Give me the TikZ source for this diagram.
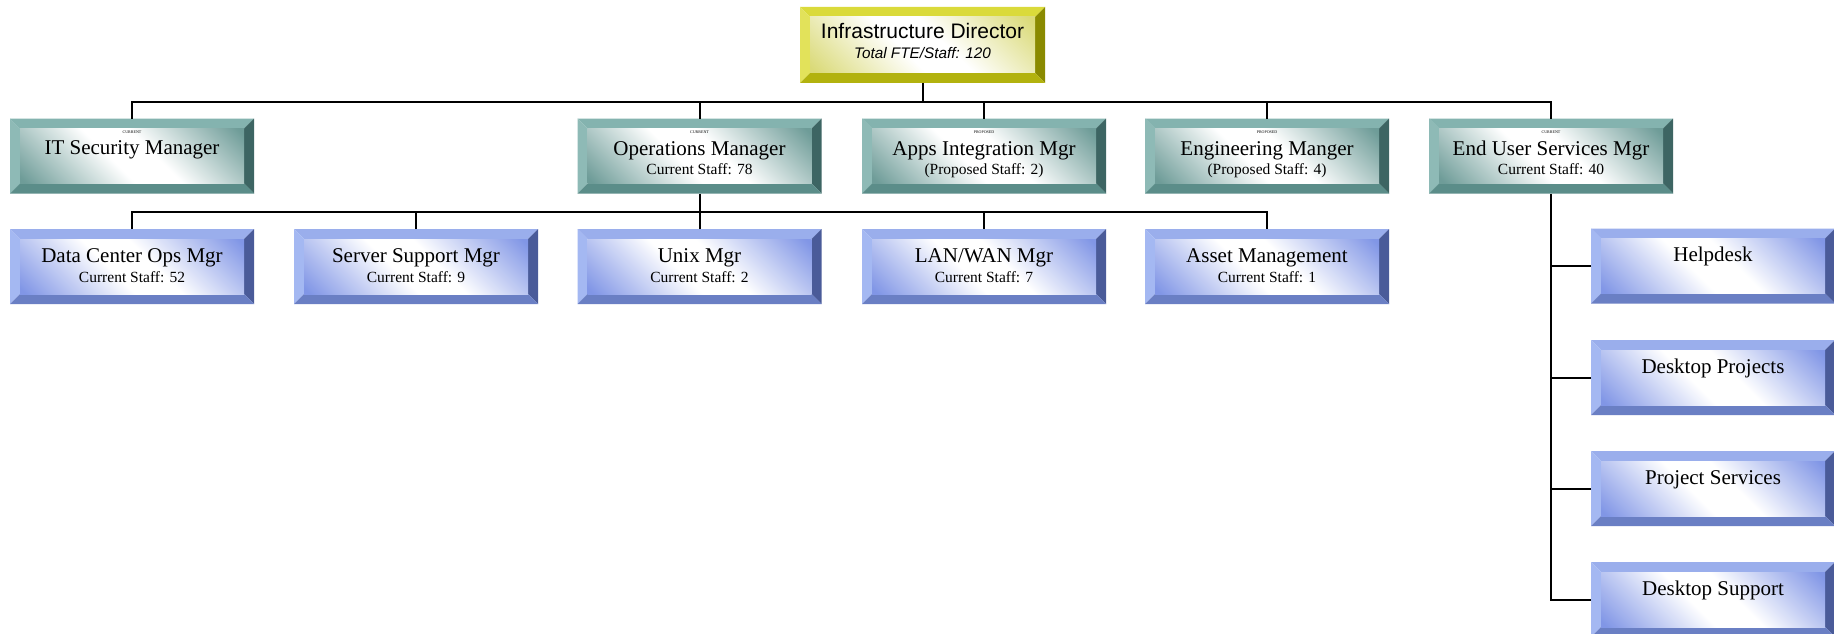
\documentclass[tikz,border=0pt]{standalone}
\usepackage{fontspec}
\setmainfont{Liberation Serif}
\newfontfamily\arialf{Liberation Sans}
\definecolor{tTop}{HTML}{84B3AF}
\definecolor{tLeft}{HTML}{8EBAB6}
\definecolor{tRight}{HTML}{3D6563}
\definecolor{tBot}{HTML}{5B8D89}
\definecolor{tIn}{HTML}{6E9C98}
\definecolor{bTop}{HTML}{9AAEEC}
\definecolor{bLeft}{HTML}{A4B8F2}
\definecolor{bRight}{HTML}{4A5B99}
\definecolor{bBot}{HTML}{6A7FC4}
\definecolor{bIn}{HTML}{8196E6}
\definecolor{yTop}{HTML}{DADA3A}
\definecolor{yLeft}{HTML}{E2E25A}
\definecolor{yRight}{HTML}{8A8A00}
\definecolor{yBot}{HTML}{B2B20E}
\definecolor{yIn}{HTML}{DADA78}
\pgfdeclareverticalshading{shT}{100bp}{color(0bp)=(tIn); color(16bp)=(tIn); color(44bp)=(white); color(56bp)=(white); color(84bp)=(tIn); color(100bp)=(tIn)}
\pgfdeclareverticalshading{shB}{100bp}{color(0bp)=(bIn); color(16bp)=(bIn); color(44bp)=(white); color(56bp)=(white); color(84bp)=(bIn); color(100bp)=(bIn)}
\pgfdeclareverticalshading{shY}{100bp}{color(0bp)=(yIn); color(16bp)=(yIn); color(44bp)=(white); color(56bp)=(white); color(84bp)=(yIn); color(100bp)=(yIn)}
\tikzset{
  bev/.style n args={5}{rectangle, minimum width=244pt, minimum height=75pt,
    inner sep=0pt, outer sep=0pt,
    path picture={
      \coordinate (pNW) at (path picture bounding box.north west);
      \coordinate (pNE) at (path picture bounding box.north east);
      \coordinate (pSW) at (path picture bounding box.south west);
      \coordinate (pSE) at (path picture bounding box.south east);
      \fill[#1] (pNW) -- (pNE) -- ([shift={(-10pt,-10pt)}]pNE) -- ([shift={(10pt,-10pt)}]pNW) -- cycle;
      \fill[#2] (pNW) -- ([shift={(10pt,-10pt)}]pNW) -- ([shift={(10pt,10pt)}]pSW) -- (pSW) -- cycle;
      \fill[#3] (pNE) -- (pSE) -- ([shift={(-10pt,10pt)}]pSE) -- ([shift={(-10pt,-10pt)}]pNE) -- cycle;
      \fill[#4] (pSW) -- ([shift={(10pt,10pt)}]pSW) -- ([shift={(-10pt,10pt)}]pSE) -- (pSE) -- cycle;
      \shade[shading=#5, shading angle=-45]
        ([shift={(10pt,-10pt)}]pNW) rectangle ([shift={(-10pt,10pt)}]pSE);
    }},
  tealbox/.style={bev={tTop}{tLeft}{tRight}{tBot}{shT}},
  bluebox/.style={bev={bTop}{bLeft}{bRight}{bBot}{shB}},
  yelbox/.style={bev={yTop}{yLeft}{yRight}{yBot}{shY}, minimum width=245pt, minimum height=76pt},
  conn/.style={draw=black, line width=2pt},
  ttltxt/.style={anchor=base, inner sep=0pt, font=\fontsize{21}{24}\selectfont},
  subtxt/.style={anchor=base, inner sep=0pt, font=\fontsize{15.5}{18}\selectfont},
  tagtxt/.style={anchor=base, inner sep=0pt, font=\fontsize{4}{5}\selectfont},
}
% row-one box with tag line
\newcommand{\tagbox}[5]{%
  \node[tealbox] (#1) at (#2,156) {};
  \node[tagtxt] (#1-g) at ([yshift=-15pt]#1.north) {#3};
  \node[ttltxt] (#1-t) at ([yshift=-36.5pt]#1.north) {#4};
  \node[subtxt] (#1-s) at ([yshift=-56pt]#1.north) {#5};}
% row-two box
\newcommand{\staffbox}[4]{%
  \node[bluebox] (#1) at (#2,266.5) {};
  \node[ttltxt] (#1-t) at ([yshift=-33pt]#1.north) {#3};
  \node[subtxt] (#1-s) at ([yshift=-53pt]#1.north) {#4};}
% right column box
\newcommand{\sidebox}[3]{%
  \node[bluebox] (#1) at (1713,#2) {};
  \node[ttltxt] (#1-t) at ([yshift=-33pt]#1.north) {#3};}
\begin{document}
\begin{tikzpicture}[x=1pt,y=-1pt]
\useasboundingbox (0,0) rectangle (1834,634);
\clip (0,0) rectangle (1834,634);
\fill[white] (0,0) rectangle (1834,634);

% director
\node[yelbox] (dir) at (922.5,45) {};
\node[ttltxt, font=\arialf\fontsize{21}{24}\selectfont] (dir-t) at ([yshift=-32pt]dir.north) {Infrastructure Director};
\node[subtxt, font=\arialf\itshape\fontsize{15.3}{18}\selectfont] (dir-s) at ([yshift=-52pt]dir.north) {Total FTE/Staff: 120};

% row one
\node[tealbox] (its) at (132,156) {};
\node[tagtxt] (its-g) at ([yshift=-15pt]its.north) {CURRENT};
\node[ttltxt] (its-t) at ([yshift=-36pt]its.north) {IT Security Manager};
\tagbox{ops}{699.5}{CURRENT}{Operations Manager}{Current Staff: 78}
\tagbox{apps}{984}{PROPOSED}{Apps Integration Mgr}{(Proposed Staff: 2)}
\tagbox{eng}{1267}{PROPOSED}{Engineering Manger}{(Proposed Staff: 4)}
\tagbox{eus}{1551}{CURRENT}{End User Services Mgr}{Current Staff: 40}

% row two
\staffbox{dco}{132}{Data Center Ops Mgr}{Current Staff: 52}
\staffbox{srv}{416}{Server Support Mgr}{Current Staff: 9}
\staffbox{unx}{699.5}{Unix Mgr}{Current Staff: 2}
\staffbox{lan}{984}{LAN/WAN Mgr}{Current Staff: 7}
\staffbox{ast}{1267}{Asset Management}{Current Staff: 1}

% right column
\sidebox{hd}{266}{Helpdesk}
\sidebox{dproj}{377.5}{Desktop Projects}
\sidebox{psvc}{488.5}{Project Services}
\sidebox{dsup}{599.5}{Desktop Support}

% connectors
\coordinate (busA) at (0,102);
\coordinate (busB) at (0,212);
\draw[conn] (its.north) |- (eus.north |- busA) -- (eus.north);
\draw[conn] (dir.south) -- (dir.south |- busA);
\foreach \n in {ops,apps,eng} \draw[conn] (\n.north) -- (\n.north |- busA);
\draw[conn] (dco.north) |- (ast.north |- busB) -- (ast.north);
\draw[conn] (ops.south) -- (ops.south |- busB);
\foreach \n in {srv,unx,lan} \draw[conn] (\n.north) -- (\n.north |- busB);
\draw[conn] (eus.south) |- (dsup.west);
\foreach \n in {hd,dproj,psvc} \draw[conn] (\n.west) -- (\n.west -| eus.south);
\end{tikzpicture}
\end{document}
